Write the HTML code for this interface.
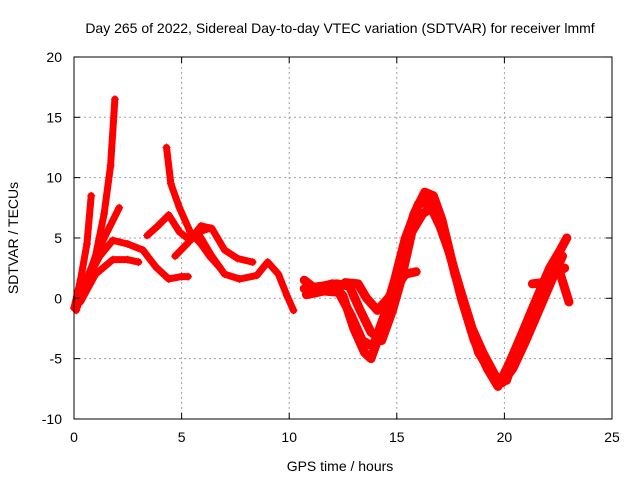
<!DOCTYPE html>
<html><head><meta charset="utf-8"><style>
body{margin:0;background:#fff}
svg{display:block;font-family:"Liberation Sans",sans-serif}
</style></head><body>
<svg id="chart" width="640" height="480">
<text x="340" y="33" font-size="14" text-anchor="middle">Day 265 of 2022, Sidereal Day-to-day VTEC variation (SDTVAR) for receiver lmmf</text>
<text x="340" y="471" font-size="14" text-anchor="middle">GPS time / hours</text>
<text transform="translate(18,238) rotate(-90)" font-size="14" text-anchor="middle">SDTVAR / TECUs</text>
<g id="grid"></g><g id="series"></g>
<rect x="74" y="57" width="538" height="362" fill="none" stroke="#000"/>
<g id="ticks"></g>
</svg>
<script>
const xTicks=[0,5,10,15,20,25];
const yTicks=[-10,-5,0,5,10,15,20];
const track1=[[0.1,-1],[0.6,1.5],[1.0,3.5],[1.4,7],[1.7,11],[1.9,16.5]];
const track2=[[0,-0.8],[0.3,1.5],[0.6,4.5],[0.8,8.5]];
const track3=[[0.2,0],[0.8,2.5],[1.4,5],[2.1,7.5]];
const track4=[[0.3,0.5],[1.2,3.5],[1.8,4.8],[2.5,4.5],[3.2,4.0],[3.8,2.6],[4.4,1.6],[5.0,1.8],[5.3,1.8]];
const track5=[[0.3,-0.3],[1.0,2],[1.8,3.2],[2.5,3.2],[3.0,3.0]];
const track6=[[3.4,5.2],[3.9,6],[4.4,6.9],[4.9,5.5],[5.4,4.8],[5.8,5.5],[6.3,5.8]];
const track7=[[4.3,12.5],[4.5,9.5],[4.9,7.5],[5.4,5.5],[5.9,4.5],[6.3,3.5],[6.8,2.5]];
const track8=[[4.7,3.5],[5.3,4.6],[5.9,6.0],[6.4,5.8],[7.0,4.0],[7.6,3.3],[8.3,3.0]];
const track9=[[5.8,5.3],[6.4,3.5],[7.0,2.0],[7.7,1.6],[8.5,1.9],[9.0,3.0],[9.5,2.0],[9.9,0.2],[10.2,-1]];
const track10=[[10.7,1.5],[11.2,0.8],[12.0,1.2],[12.5,0.2],[13.0,-2.5],[13.5,-4.5],[13.8,-5],[14.3,-2.5],[14.8,0.5],[15.3,4],[15.8,7],[16.3,8.8],[16.7,8.5],[17.1,6.5],[17.5,3.5],[18.0,0],[18.6,-3.5],[19.2,-5.8],[19.7,-7.3],[20.2,-5.5],[20.8,-3],[21.5,0],[22.1,2.5],[22.6,4],[22.9,5]];
const track11=[[10.7,0.8],[11.5,1.0],[12.2,1.2],[12.8,1.0],[13.3,-1],[13.8,-2.8],[14.3,-3.5],[14.8,-1],[15.2,1.5],[15.7,5.5],[16.2,7.0],[16.6,7.5],[17.0,6.0],[17.4,4.0],[17.9,1.0],[18.5,-2.5],[19.0,-4.5],[19.6,-6.5],[20.1,-6.8],[20.6,-4],[21.2,-2],[21.8,0.5],[22.3,2],[22.8,2.5]];
const track12=[[12.6,1.3],[13.2,1.2],[13.6,0],[14.1,-1],[14.6,0],[15.4,2.0],[15.9,2.2]];
const track13=[[21.3,1.2],[21.8,1.3],[22.3,3],[22.6,2],[23.0,-0.3]];
const track14=[[10.8,0.3],[11.6,0.6],[12.3,0.5],[12.9,-1.5],[13.4,-3.5],[13.9,-4],[14.4,-1.5],[14.9,1.5],[15.4,5],[16.0,7.8],[16.5,8.0],[16.9,7.2],[17.3,5],[17.7,2],[18.3,-1.5],[18.8,-4.5],[19.4,-6.2],[19.9,-7.0],[20.4,-5.8],[21.0,-3.5],[21.6,-1],[22.2,1.5],[22.7,3.5]];
const tracks=[track1,track2,track3,track4,track5,track6,track7,track8,track9,track10,track11,track12,track13,track14];
const X=h=>74+h*(538/25), Y=v=>298.3-v*(362/30);
const NS="http://www.w3.org/2000/svg";
const g=document.getElementById('grid'),t=document.getElementById('ticks'),s=document.getElementById('series');
function mk(tag,attrs,parent){const e=document.createElementNS(NS,tag);for(const k in attrs)e.setAttribute(k,attrs[k]);parent.appendChild(e);return e;}
xTicks.forEach(v=>{const x=X(v);
 if(v>0&&v<25){const l=mk('line',{x1:x,x2:x,y1:57,y2:419,stroke:'#a0a0a0','stroke-dasharray':'2,3'},g);
 
 }
 mk('line',{x1:x,x2:x,y1:419,y2:413,stroke:'#000'},t);mk('line',{x1:x,x2:x,y1:57,y2:63,stroke:'#000'},t);
 const tx=mk('text',{x:x,y:442,'font-size':14,'text-anchor':'middle'},t);tx.textContent=v;
 
 });
yTicks.forEach(v=>{const y=Y(v);
 if(v>-10&&v<20){const l=mk('line',{x1:74,x2:612,y1:y,y2:y,stroke:'#a0a0a0','stroke-dasharray':'2,3'},g);
 
 }
 mk('line',{x1:74,x2:80,y1:y,y2:y,stroke:'#000'},t);mk('line',{x1:612,x2:606,y1:y,y2:y,stroke:'#000'},t);
 const tx=mk('text',{x:62,y:y+5,'font-size':14,'text-anchor':'end'},t);tx.textContent=v;
 
 });
tracks.forEach((tr,i)=>{
 const p=mk('polyline',{points:tr.map(d=>X(d[0])+','+Y(d[1])).join(' '),fill:'none',stroke:'#ff0000','stroke-width':i>=9?9:7,'stroke-linejoin':'round','stroke-linecap':'round'},s);
 
 
 tr.forEach(d=>{const x=X(d[0]),y=Y(d[1]);
  const m=mk('path',{d:`M${x-4},${y}H${x+4}M${x},${y-4}V${y+4}`,stroke:'#ff0000','stroke-width':1},s);
  
  });
});
</script>
</body></html>
